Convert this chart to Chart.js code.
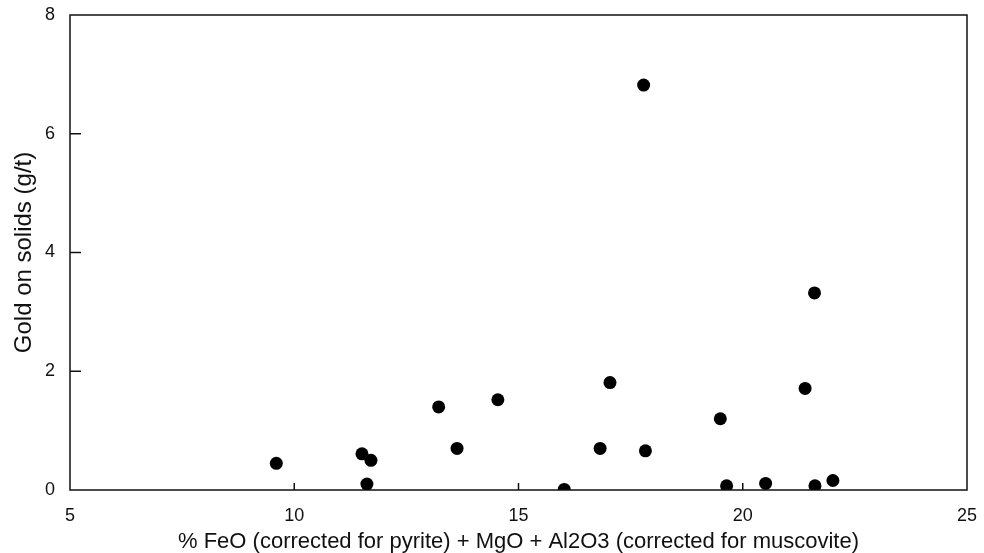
<!DOCTYPE html>
<html>
<head>
<meta charset="utf-8">
<script src="https://cdn.jsdelivr.net/npm/chart.js@4/dist/chart.umd.min.js"></script>
<style>
  html, body { margin: 0; padding: 0; background: #fff; }
  #wrap { width: 984px; height: 553px; }
</style>
</head>
<body>
<div id="wrap"><canvas id="c" width="984" height="553"></canvas></div>
<script>
// Data
const xValues = [9.6, 11.51, 11.71, 11.62, 13.22, 13.63, 14.54, 16.02, 16.82, 17.04, 17.83, 17.79, 19.5, 19.64, 20.51, 21.39, 21.6, 21.61, 22.01];
const yValues = [0.45, 0.61, 0.50, 0.10, 1.40, 0.70, 1.52, 0.01, 0.70, 1.81, 0.66, 6.82, 1.20, 0.07, 0.11, 1.71, 3.32, 0.07, 0.16];
const xTicks = [5, 10, 15, 20, 25];
const yTicks = [0, 2, 4, 6, 8];
const xTitle = '% FeO (corrected for pyrite) + MgO + Al2O3 (corrected for muscovite)';
const yTitle = 'Gold on solids (g/t)';

const points = xValues.map((x, i) => ({ x: x, y: yValues[i] }));
const INK = '#111';

// Frame and inward tick marks
const framePlugin = {
  id: 'frame',
  afterDatasetsDraw(chart) {
    const { ctx, chartArea: a, scales } = chart;
    ctx.save();
    ctx.strokeStyle = INK;
    ctx.lineWidth = 1.5;
    ctx.strokeRect(a.left, a.top, a.right - a.left, a.bottom - a.top);
    ctx.beginPath();
    xTicks.slice(1, -1).forEach(v => {
      const px = scales.x.getPixelForValue(v);
      ctx.moveTo(px, a.bottom);
      ctx.lineTo(px, a.bottom - 7);
    });
    yTicks.slice(1, -1).forEach(v => {
      const py = scales.y.getPixelForValue(v);
      ctx.moveTo(a.left, py);
      ctx.lineTo(a.left + 11, py);
    });
    ctx.stroke();
    ctx.restore();
  }
};

new Chart(document.getElementById('c'), {
  type: 'scatter',
  data: {
    datasets: [{
      data: points,
      backgroundColor: '#000',
      borderColor: '#000',
      borderWidth: 0,
      pointRadius: 6.5,
      pointHoverRadius: 6.5
    }]
  },
  options: {
    responsive: false,
    animation: false,
    events: [],
    layout: { padding: { left: 0, right: 17, top: 15, bottom: 0 } },
    plugins: { legend: { display: false }, tooltip: { enabled: false } },
    scales: {
      x: {
        type: 'linear',
        min: 5, max: 25,
        afterBuildTicks: s => { s.ticks = xTicks.map(v => ({ value: v })); },
        afterFit: s => { s.height = 63; s.paddingLeft = 0; s.paddingRight = 0; },
        grid: { display: false, drawTicks: false },
        border: { display: false },
        ticks: { color: INK, padding: 15, font: { family: 'Liberation Sans, Arial, sans-serif', size: 18 } },
        title: {
          display: true, text: xTitle, color: INK,
          font: { family: 'Liberation Sans, Arial, sans-serif', size: 22, lineHeight: 1 },
          padding: { top: 0, bottom: 0 }
        }
      },
      y: {
        type: 'linear',
        min: 0, max: 8,
        afterBuildTicks: s => { s.ticks = yTicks.map(v => ({ value: v })); },
        afterFit: s => { s.width = 70; s.paddingTop = 0; s.paddingBottom = 0; },
        grid: { display: false, drawTicks: false },
        border: { display: false },
        ticks: { color: INK, padding: 15, font: { family: 'Liberation Sans, Arial, sans-serif', size: 18 } },
        title: {
          display: true, text: yTitle, color: INK,
          font: { family: 'Liberation Sans, Arial, sans-serif', size: 24, lineHeight: 1 },
          padding: { top: 12, bottom: 0 }
        }
      }
    }
  },
  plugins: [framePlugin]
});
</script>
</body>
</html>
